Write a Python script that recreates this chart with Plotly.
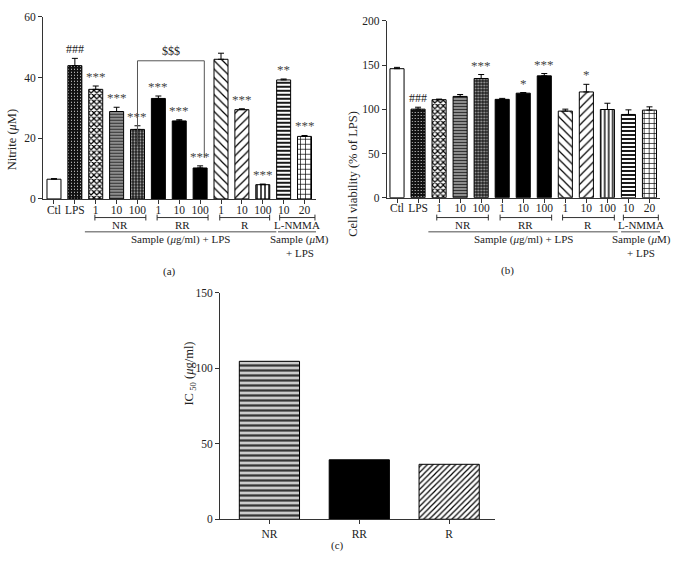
import plotly.graph_objects as go

W, H = 677, 583
FONT = "Liberation Serif"

# ---------------- data ----------------
groups = ["Ctl", "LPS", "NR1", "NR10", "NR100", "RR1", "RR10", "RR100",
          "R1", "R10", "R100", "LN10", "LN20"]
tick_labels = ["Ctl", "LPS", "1", "10", "100", "1", "10", "100",
               "1", "10", "100", "10", "20"]

nitrite = [6.5, 43.9, 36.1, 28.8, 22.9, 33.1, 25.7, 10.2, 46.0, 29.4, 4.7, 39.2, 20.6]
nitrite_err = [0.2, 2.4, 1.1, 1.4, 1.2, 0.8, 0.4, 0.7, 2.0, 0.3, 0.2, 0.3, 0.3]
nitrite_sig = ["", "###", "***", "***", "***", "***", "***", "***", "", "***", "***", "**", "***"]

viab = [146.0, 100.2, 110.9, 114.6, 134.9, 111.3, 118.3, 137.9, 98.0, 119.7, 99.8, 94.2, 99.1]
viab_err = [1.5, 2.2, 0.7, 2.2, 4.5, 1.1, 0.7, 2.6, 2.2, 8.6, 7.1, 5.2, 3.7]
viab_sig = ["", "###", "", "", "***", "", "*", "***", "", "*", "", "", ""]

ic50_labels = ["NR", "RR", "R"]
ic50 = [104.7, 39.4, 36.4]

# group brackets (start, end in category units)
brackets_a = [("NR", 1.96, 4.40), ("RR", 4.94, 7.38), ("R", 7.94, 10.33), ("L-NMMA", 10.81, 12.50)]
brackets_b = [("NR", 1.89, 4.34), ("RR", 4.90, 7.35), ("R", 7.87, 10.33), ("L-NMMA", 10.76, 12.42)]

# ---------------- styles (one per group) ----------------
pat_shape = ["", ".", "x", "-", ".", "", "", "", "\\", "/", "|", "-", "+"]
pat_fg = ["black", "white", "black", "#333", "#aaa", "black", "black", "black",
          "black", "black", "black", "black", "black"]
pat_bg = ["white", "#111", "white", "#aaa", "#222", "black", "black", "black",
          "white", "white", "white", "white", "white"]
pat_size = [6, 3, 4, 3, 3, 6, 6, 6, 6, 6, 4, 4, 5]
pat_sol = [0.3, 0.12, 0.5, 0.5, 0.3, 0.3, 0.3, 0.3, 0.2, 0.2, 0.35, 0.45, 0.25]

ic_shape = ["-", "", "/"]
ic_fg = ["#333", "black", "black"]
ic_bg = ["#ccc", "black", "white"]
ic_size = [5, 6, 4]
ic_sol = [0.45, 0.3, 0.3]


def px_x(px):
    return px / W


def px_y(py):
    return 1 - py / H


fig = go.Figure()


def add_bar(x, v, e, xa, ya, shape, fg, bg, size, sol):
    kw = {}
    if e is not None:
        kw["error_y"] = dict(type="data", symmetric=False, array=[e], arrayminus=[0],
                             color="black", thickness=1, width=3)
    marker = dict(color=fg if shape else bg, line=dict(color="black", width=1))
    if shape:
        marker["pattern"] = dict(shape=shape, fgcolor=fg, bgcolor=bg, size=size,
                                 solidity=sol, fillmode="replace")
    fig.add_trace(go.Bar(x=[x], y=[v], xaxis=xa, yaxis=ya, width=0.67, marker=marker,
                         showlegend=False, hoverinfo="skip", **kw))


for i in range(len(groups)):
    add_bar(i, nitrite[i], nitrite_err[i], "x", "y",
            pat_shape[i], pat_fg[i], pat_bg[i], pat_size[i], pat_sol[i])
    add_bar(i, viab[i], viab_err[i], "x2", "y2",
            pat_shape[i], pat_fg[i], pat_bg[i], pat_size[i], pat_sol[i])

for i in range(len(ic50)):
    add_bar(i, ic50[i], None, "x3", "y3", ic_shape[i], ic_fg[i], ic_bg[i], ic_size[i], ic_sol[i])

axis_common = dict(showline=True, linecolor="#333", linewidth=1, ticks="outside",
                   tickcolor="#333", ticklen=4, showgrid=False, zeroline=False,
                   tickfont=dict(family=FONT, size=11.5, color="#222"))

fig.update_layout(
    width=W, height=H, margin=dict(l=0, r=0, t=0, b=0),
    paper_bgcolor="white", plot_bgcolor="white", barmode="overlay",
    font=dict(family=FONT, color="#222"),
    xaxis=dict(domain=[px_x(43), px_x(316)], range=[-0.526, 12.55], anchor="y",
               tickvals=list(range(13)), ticktext=tick_labels, ticklabelstandoff=-4,
               **axis_common),
    yaxis=dict(domain=[px_y(197), px_y(11)], range=[0, 60], anchor="x",
               tickvals=[0, 20, 40, 60], **axis_common),
    xaxis2=dict(domain=[px_x(386.7), px_x(660)], range=[-0.49, 12.5], anchor="y2",
                tickvals=list(range(13)), ticktext=tick_labels, ticklabelstandoff=-4,
                **axis_common),
    yaxis2=dict(domain=[px_y(195.7), px_y(15.3)], range=[0, 200], anchor="x2",
                tickvals=[0, 50, 100, 150, 200], **axis_common),
    xaxis3=dict(domain=[px_x(220), px_x(495)], range=[-0.55, 2.51], anchor="y3",
                tickvals=[0, 1, 2], ticktext=ic50_labels, **axis_common),
    yaxis3=dict(domain=[px_y(524), px_y(293)], range=[0, 150], anchor="x3",
                tickvals=[0, 50, 100, 150], **axis_common),
)

shapes = []
annots = []


def txt(x, y, text, xref="paper", yref="paper", size=11, color="#222", **kw):
    d = dict(x=x, y=y, xref=xref, yref=yref, text=text, showarrow=False,
             xanchor="center", font=dict(family=FONT, size=size, color=color))
    d.update(kw)
    annots.append(d)


# significance labels
for xa, ya, vals, errs, sigs in [("x", "y", nitrite, nitrite_err, nitrite_sig),
                                 ("x2", "y2", viab, viab_err, viab_sig)]:
    for i, s in enumerate(sigs):
        if s:
            txt(i, vals[i] + errs[i], s, xref=xa, yref=ya,
                size=12 if "#" in s else 13, color="#444" if "*" in s else "#222",
                yanchor="bottom")

# $$$ bracket in panel (a)
shapes.append(dict(type="path", xref="x", yref="y",
                   path="M 4,17.5 L 4,45.5 L 7.2,45.5 L 7.2,13.5",
                   line=dict(color="#555", width=1)))
txt(5.6, 45.5, "&#36;&#36;&#36;", xref="x", yref="y", size=12, color="#222",
    yanchor="bottom", yshift=1)

# group brackets below the x axes
for xa, br, long1, long2 in [("x", brackets_a, (1.48, 10.65), (10.73, 12.81)),
                             ("x2", brackets_b, (1.49, 10.49), (10.65, 12.58))]:
    yb = px_y(216)
    for name, a, b in br:
        shapes.append(dict(type="line", xref=xa, yref="paper", x0=a, x1=b, y0=yb, y1=yb,
                           line=dict(color="#333", width=1)))
        for xx in (a, b):
            shapes.append(dict(type="line", xref=xa, yref="paper", x0=xx, x1=xx,
                               y0=px_y(213), y1=px_y(219), line=dict(color="#333", width=1)))
        txt((a + b) / 2, px_y(223.5), name, xref=xa, size=11)
    for (a, b) in (long1, long2):
        shapes.append(dict(type="line", xref=xa, yref="paper", x0=a, x1=b,
                           y0=px_y(230.5), y1=px_y(230.5), line=dict(color="#888", width=1.5)))
    txt((long1[0] + long1[1]) / 2, px_y(238), "Sample (<i>μ</i>g/ml) + LPS", xref=xa, size=11)
    txt((long2[0] + long2[1]) / 2, px_y(238), "Sample (<i>μ</i>M)", xref=xa, size=11)
    txt((long2[0] + long2[1]) / 2, px_y(252.5), "+ LPS", xref=xa, size=11)

# panel letters
txt(px_x(169), px_y(271), "(a)")
txt(px_x(507), px_y(270), "(b)")
txt(px_x(337), px_y(560), "(c)")

# y-axis titles
txt(px_x(12), px_y(104), "Nitrite (<i>μ</i>M)", textangle=-90, size=12.5)
txt(px_x(353), px_y(105), "Cell viability (% of LPS)", textangle=-90, size=12.5)
txt(px_x(190), px_y(410), "IC<sub> 50</sub> (<i>μ</i>g/ml)", textangle=-90, size=12.5)

fig.update_layout(shapes=shapes, annotations=annots)
fig.write_html("out.html", config={"displayModeBar": False},
               post_script="document.body.style.margin='0';")
